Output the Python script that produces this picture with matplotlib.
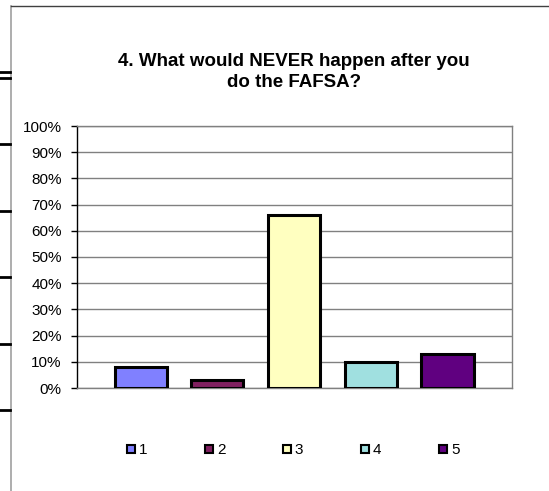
import matplotlib
matplotlib.use("Agg")
from matplotlib import pyplot as plt
from matplotlib.lines import Line2D

plt.rcParams['font.family'] = ['Liberation Sans', 'DejaVu Sans']

labels = ['1', '2', '3', '4', '5']
values = [8, 3, 66, 10, 13]
colors = ['#8080FF', '#802060', '#FFFFC0', '#A0E0E0', '#600080']
title = '4. What would NEVER happen after you\ndo the FAFSA?'

W, H = 549, 491
fig = plt.figure(figsize=(W / 100, H / 100), dpi=100)

# outer chart frame (partly cut off in the original)
fig.add_artist(Line2D([10.5 / W, 10.5 / W], [0, 1 - 6 / H], color='#a0a0a0', lw=1.2))
fig.add_artist(Line2D([10.5 / W, 1], [1 - 6 / H, 1 - 6 / H], color='#404040', lw=1.0))
# little black marks on the left edge
for y in [72, 78, 144, 211, 277, 344, 410]:
    fig.add_artist(Line2D([0, 10 / W], [1 - y / H, 1 - y / H], color='black', lw=2))

ax = fig.add_axes([77 / W, (H - 388) / H, 435 / W, 262 / H])
x = list(range(len(values)))
ax.bar(x, values, width=0.68, color=colors, edgecolor='black', linewidth=2.2, zorder=3)

ax.set_xlim(-0.83, 4.84)
ax.set_ylim(0, 100)
ax.set_yticks(range(0, 101, 10))
ax.set_yticklabels([f'{v}%' for v in range(0, 101, 10)], fontsize=11)
ax.set_xticks([])
ax.tick_params(axis='y', length=4, width=1, pad=7, color='black')
ax.grid(axis='y', color='#808080', lw=1, zorder=0)
for s in ['top', 'right', 'bottom']:
    ax.spines[s].set_color('#808080')
    ax.spines[s].set_linewidth(1)
ax.spines['left'].set_color('black')
ax.spines['left'].set_linewidth(1)

fig.text(294 / W, 1 - 72 / H, title, ha='center', va='center',
         fontsize=13.5, fontweight='bold', linespacing=1.38)

handles = [Line2D([], [], marker='s', ls='', markersize=6, markerfacecolor=c,
                  markeredgecolor='black', markeredgewidth=1.5) for c in colors]
fig.legend(handles, labels, loc='center', bbox_to_anchor=(293 / W, 1 - 450 / H),
           ncol=5, frameon=False, fontsize=11, handlelength=0.6,
           handletextpad=0.2, columnspacing=3.75)

fig.savefig('out.png', dpi=100)
